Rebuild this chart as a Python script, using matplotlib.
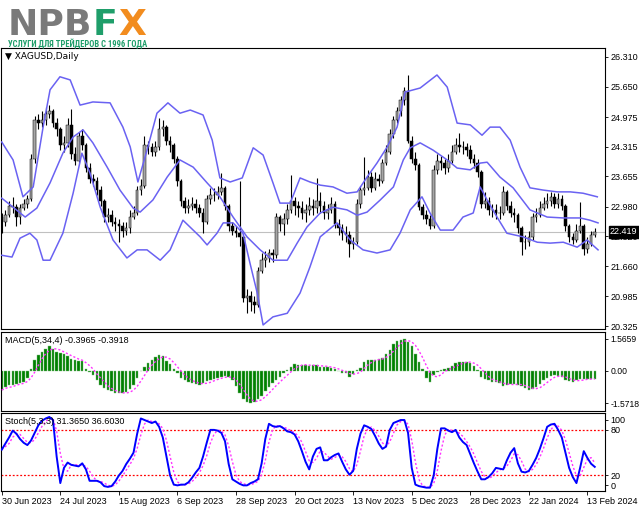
import matplotlib
matplotlib.use("Agg")
import matplotlib.pyplot as plt
import numpy as np
import pandas as pd
from matplotlib import font_manager
from matplotlib.transforms import blended_transform_factory

# ---------------- data ----------------
opens = [22.75,22.64,22.80,23.00,22.98,22.75,22.95,23.05,23.15,24.05,
         24.90,24.85,24.90,25.05,25.10,24.85,24.70,24.35,24.40,24.80,
         24.15,24.00,24.55,24.35,23.85,23.60,23.55,23.35,23.10,22.75,
         22.80,22.65,22.60,22.55,22.45,22.50,22.75,22.85,23.35,23.45,
         24.35,24.30,24.20,24.30,24.70,24.75,24.45,24.35,24.05,23.55,
         23.10,22.95,23.00,23.05,22.95,22.85,22.65,23.15,23.25,23.25,
         23.30,23.40,23.00,22.55,22.45,22.40,22.30,20.95,21.00,20.85,
         20.80,21.55,21.80,21.85,21.95,21.90,22.75,22.60,22.70,22.90,
         23.10,23.00,22.95,22.85,22.90,23.00,22.95,23.10,23.00,22.85,
         22.90,23.05,22.60,22.50,22.40,22.35,22.15,22.20,23.05,23.35,
         23.40,23.65,23.40,23.60,23.55,23.95,24.20,24.60,24.90,25.10,
         25.35,25.55,24.45,24.05,23.90,22.97,22.80,22.70,22.55,23.80,
         24.00,23.95,23.85,24.00,24.20,24.35,24.30,24.30,24.25,24.05,
         23.95,23.75,23.05,23.10,22.90,22.90,22.85,22.85,23.30,23.00,
         22.85,22.80,22.50,22.20,22.20,22.30,22.75,22.80,22.95,23.05,
         23.10,23.20,23.05,23.15,23.00,22.55,22.30,22.25,22.45,22.55,
         22.05,22.15,22.35]
closes = [22.64,22.80,23.00,22.98,22.75,22.95,23.05,23.15,24.05,24.90,
          24.85,24.90,25.05,25.10,24.85,24.70,24.35,24.40,24.80,24.15,
          24.00,24.55,24.35,23.85,23.60,23.55,23.35,23.10,22.75,22.80,
          22.65,22.60,22.55,22.45,22.50,22.75,22.85,23.35,23.45,24.35,
          24.30,24.20,24.30,24.70,24.75,24.45,24.35,24.05,23.55,23.10,
          22.95,23.00,23.05,22.95,22.85,22.65,23.15,23.25,23.25,23.30,
          23.40,23.00,22.55,22.45,22.40,22.30,20.95,21.00,20.85,20.80,
          21.55,21.80,21.85,21.95,21.90,22.75,22.60,22.70,22.90,23.10,
          23.00,22.95,22.85,22.90,23.00,22.95,23.10,23.00,22.85,22.90,
          23.05,22.60,22.50,22.40,22.35,22.15,22.20,23.05,23.35,23.40,
          23.65,23.40,23.60,23.55,23.95,24.20,24.60,24.90,25.10,25.35,
          25.55,24.45,24.05,23.90,22.97,22.80,22.70,22.55,23.80,24.00,
          23.95,23.85,24.00,24.20,24.35,24.30,24.30,24.25,24.05,23.95,
          23.75,23.05,23.10,22.90,22.90,22.85,22.85,23.30,23.00,22.85,
          22.80,22.50,22.20,22.20,22.30,22.75,22.80,22.95,23.05,23.10,
          23.20,23.05,23.15,23.00,22.55,22.30,22.25,22.45,22.55,22.05,
          22.15,22.35,22.419]
highs = [22.85,22.90,23.10,23.20,23.05,23.05,23.15,23.25,24.15,25.00,
         25.05,25.10,25.20,25.25,25.15,24.95,24.75,24.55,24.95,25.15,
         24.30,24.65,24.70,24.40,23.95,23.70,23.65,23.45,23.15,22.95,
         22.90,22.75,22.70,22.65,22.65,22.90,23.00,23.45,23.60,24.55,
         24.45,24.40,24.45,24.95,24.90,24.80,24.55,24.40,24.10,23.60,
         23.20,23.15,23.20,23.15,23.05,22.95,23.25,23.40,23.40,23.45,
         23.73,23.45,23.05,22.65,22.55,23.55,22.35,21.15,21.10,21.00,
         21.65,21.95,22.00,22.05,22.05,22.85,22.80,22.85,23.05,23.68,
         23.20,23.10,23.10,23.05,23.20,23.15,23.62,23.30,23.10,23.05,
         23.20,23.10,22.70,22.60,22.55,22.45,22.30,23.15,23.45,24.09,
         23.80,23.75,23.75,23.70,24.05,24.35,24.70,25.00,25.20,25.45,
         25.65,25.91,24.55,24.20,23.95,23.05,22.90,22.80,23.90,24.15,
         24.10,24.05,24.15,24.35,24.50,24.62,24.45,24.40,24.35,24.15,
         24.05,23.80,23.30,23.20,23.05,23.05,23.00,23.45,23.35,23.10,
         22.95,22.85,22.55,22.35,22.45,22.85,22.95,23.10,23.20,23.28,
         23.30,23.28,23.28,23.25,23.05,22.60,22.40,22.60,23.08,22.60,
         22.30,22.45,22.50]
lows = [22.40,22.55,22.75,22.85,22.55,22.60,22.90,22.95,23.10,23.95,
        24.70,24.75,24.80,24.95,24.75,24.55,24.25,24.20,24.30,24.05,
        23.90,23.95,24.25,23.75,23.50,23.45,23.25,23.00,22.65,22.65,
        22.55,22.45,22.20,22.30,22.35,22.40,22.70,22.80,23.25,23.40,
        24.15,24.10,24.10,24.25,24.55,24.35,24.20,23.95,23.45,23.00,
        22.85,22.85,22.90,22.85,22.75,22.40,22.60,23.05,23.10,23.15,
        23.25,22.90,22.45,22.35,22.30,22.10,20.85,20.61,20.65,20.62,
        20.75,21.50,21.65,21.75,21.75,21.85,22.45,22.35,22.60,22.85,
        22.80,22.75,22.70,22.65,22.80,22.80,22.85,22.85,22.70,22.70,
        22.85,22.50,22.35,22.25,22.20,21.86,22.05,22.15,22.95,23.25,
        23.35,23.30,23.35,23.45,23.50,23.90,24.15,24.50,24.85,25.00,
        25.25,24.40,23.95,23.80,22.90,22.70,22.60,22.48,22.50,23.70,
        23.80,23.70,23.75,23.95,24.15,24.20,24.15,24.10,23.95,23.85,
        23.65,22.95,22.95,22.80,22.75,22.70,22.70,22.80,22.90,22.75,
        22.65,22.40,21.90,22.05,22.10,22.25,22.65,22.75,22.90,22.95,
        23.00,22.95,22.95,22.90,22.45,22.20,22.15,22.20,22.40,21.90,
        21.95,22.10,22.30]

# Bollinger band points (bar index, price)
bb_up_x = [0,3.1,5.8,8.6,11.3,13.2,15.9,18.7,21.4,24.9,29.6,33.1,35.1,37.2,39.7,
           42.4,45.4,48.7,51.5,55,57.5,59.6,62.4,65.7,68.7,71.4,74.1,76,78.8,81.5,
           84.2,87,90.5,94.3,97.1,99.8,102.5,105.3,108,110.2,114.3,118.9,121.7,124.4,
           128,131.2,133.4,136.1,138.9,141.6,144.3,147.9,151.7,155.3,158.8,162.7]
bb_up = [24.42,24.02,23.20,23.42,24.75,25.58,25.87,25.80,25.24,25.31,25.29,24.75,24.31,
         23.53,24.24,25.06,25.29,25.06,25.13,25.02,24.46,23.62,23.53,23.62,24.29,24.13,
         23.51,23.06,23.06,23.62,23.53,23.46,23.42,23.28,23.31,23.64,23.95,24.31,24.75,
         25.53,25.62,25.91,25.64,24.84,24.80,24.57,24.75,24.75,24.46,23.86,23.40,23.35,
         23.31,23.31,23.28,23.20]
bb_mid_x = [0,3.1,6.4,9.6,13.2,16.7,19.5,22.2,24.9,28.8,32.3,35.9,37.8,41.3,45.2,48.7,
            52.3,56.1,59.6,63.2,67,70.6,74.1,78,80.7,83.4,87,90.5,94.3,97.1,99.8,103.4,
            107,109.7,111.6,114.3,117.8,121.7,124.4,128,130.7,132.6,136.1,139.7,144.3,
            149,153.4,158,160.7,162.9]
bb_mid = [23.17,22.97,22.75,22.95,23.51,24.17,24.53,24.69,24.40,23.86,23.35,22.95,22.86,
          23.13,23.64,24.02,23.86,23.51,23.20,22.75,22.31,22.02,21.79,21.79,22.17,22.53,
          22.84,22.97,22.91,22.79,22.86,23.13,23.42,24.02,24.29,24.40,24.24,24.02,23.84,
          23.80,23.95,23.97,23.64,23.40,22.91,22.75,22.73,22.73,22.68,22.62]
bb_low_x = [0,2.8,5,7.7,9.6,11.3,13.2,16.7,19.5,21.9,24.1,26.9,30.4,34.2,37,39.7,43.3,
            46,49.5,54.2,56.1,58.8,60.5,63.2,65.9,67.8,69.8,71.4,74.1,78,81.5,84.2,87,
            91.6,95.2,98.7,102.5,106.1,108.8,111.6,114.8,117,119.8,123.3,126,128.8,130.7,
            132.6,135.3,138,142.4,146.3,149.8,153.4,157.2,159.9,162.9]
bb_low = [21.90,21.86,22.28,22.39,22.24,21.79,21.79,22.39,23.28,24.17,23.73,22.97,22.24,
          21.84,22.02,22.02,21.79,22.02,22.68,22.31,22.13,22.39,22.62,22.62,22.39,21.73,
          21.06,20.35,20.53,20.61,21.06,21.64,22.31,22.62,22.24,22.02,21.95,22.02,22.39,
          22.91,23.20,22.84,22.46,22.46,22.75,22.84,23.42,23.13,22.75,22.39,22.31,22.19,
          22.17,22.19,22.08,22.24,22.02]

macd = [-0.93,-0.77,-0.69,-0.69,-0.62,-0.58,-0.52,-0.35,0.10,0.54,
        0.79,0.95,1.10,1.20,1.08,0.95,0.87,0.84,0.72,0.58,
        0.55,0.50,0.48,0.10,-0.03,-0.20,-0.45,-0.68,-0.82,-0.93,
        -1.00,-1.06,-1.10,-1.10,-1.05,-0.90,-0.70,-0.35,-0.02,0.22,
        0.38,0.55,0.70,0.78,0.72,0.50,0.35,0.08,-0.12,-0.33,
        -0.44,-0.52,-0.57,-0.62,-0.68,-0.60,-0.50,-0.44,-0.38,-0.33,
        -0.28,-0.25,-0.30,-0.45,-0.75,-1.10,-1.35,-1.50,-1.5718,-1.50,
        -1.35,-1.20,-1.00,-0.80,-0.60,-0.45,-0.30,-0.12,0.05,0.20,
        0.33,0.30,0.30,0.29,0.25,0.28,0.27,0.22,0.21,0.20,
        0.13,0.10,-0.02,-0.08,-0.12,-0.28,-0.15,0.05,0.15,0.45,
        0.52,0.54,0.56,0.60,0.66,0.85,1.05,1.30,1.45,1.52,
        1.5659,1.42,1.20,0.85,0.45,0.10,-0.35,-0.52,-0.22,-0.05,
        0.05,0.10,0.15,0.25,0.38,0.44,0.44,0.45,0.40,0.25,
        0.05,-0.28,-0.38,-0.45,-0.52,-0.55,-0.60,-0.72,-0.68,-0.62,
        -0.64,-0.68,-0.72,-0.82,-0.93,-0.90,-0.80,-0.65,-0.45,-0.35,
        -0.25,-0.20,-0.25,-0.30,-0.42,-0.50,-0.52,-0.45,-0.40,-0.39,
        -0.38,-0.4007,-0.3965]

stoch = [54,62,70,79,75,68,63,60,66,76,
         86,92,95,97,93,45,10,30,37,34,
         33,32,36,28,13,13,13,11,6,5,
         6,12,20,26,35,42,50,75,95,93,
         91,89,91,84,70,45,20,8,7,8,
         8,11,17,24,30,45,63,80,80,79,
         76,65,35,15,12,9,7,7,10,12,
         15,36,68,88,85,84,85,82,78,77,
         74,65,52,38,28,45,55,57,40,40,
         44,47,49,38,28,21,26,55,75,86,
         84,81,72,62,55,58,80,89,91,93,
         93,76,30,8,6,5,4,4,20,55,
         82,82,79,77,80,70,64,60,48,36,
         25,15,15,18,23,30,29,28,40,50,
         56,36,25,24,26,34,43,55,69,84,
         87,88,80,70,50,30,18,10,30,52,
         43,35.444,31.365]

price_ticks = [26.310, 25.650, 24.975, 24.315, 23.655, 22.980, 22.320, 21.660, 20.985, 20.325]
macd_ticks = [1.5659, 0.0, -1.5718]
macd_tick_labels = ["1.5659", "0.00", "-1.5718"]
stoch_levels = [80, 20]
stoch_tick_pos = [93, 80, 20, 7]
stoch_tick_labels = ["100", "80", "20", "0"]
date_pos = [0, 16, 32, 48, 64, 80, 96, 112, 128, 144, 160]
date_labels = ["30 Jun 2023", "24 Jul 2023", "15 Aug 2023", "6 Sep 2023", "28 Sep 2023",
               "20 Oct 2023", "13 Nov 2023", "5 Dec 2023", "28 Dec 2023", "22 Jan 2024",
               "13 Feb 2024"]

# ---------------- figure ----------------
W, H = 639, 508
fig = plt.figure(figsize=(W / 100, H / 100), dpi=100)
fig.patch.set_facecolor("white")
FONT = "Liberation Sans"
FS = 6.5

names = {f.name for f in font_manager.fontManager.ttflist}
NARROW = next((n for n in ["Liberation Sans Narrow", "Roboto Condensed",
                           "Open Sans Condensed"] if n in names), FONT)


def rect(x0, y0, x1, y1):
    return [x0 / W, 1 - y1 / H, (x1 - x0) / W, (y1 - y0) / H]


ax1 = fig.add_axes(rect(1, 48, 605, 329))
ax2 = fig.add_axes(rect(1, 332, 605, 411))
ax3 = fig.add_axes(rect(1, 413, 605, 491))

for ax in (ax1, ax2, ax3):
    ax.set_xlim(-0.2, 164.8)
    ax.set_facecolor("white")
    for s in ax.spines.values():
        s.set_linewidth(0.8)
        s.set_color("black")
    ax.yaxis.tick_right()
    ax.tick_params(axis="y", right=True, left=False, labelright=True, labelleft=False,
                   length=2.5, width=0.6, pad=1.2, labelsize=FS)

ax1.set_xticks([])
ax2.set_xticks([])

# ---- main: candles + Bollinger ----
o = np.array(opens)
c = np.array(closes)
h = np.array(highs)
lo = np.array(lows)
idx = np.arange(len(c))
up = c >= o

ax1.axhline(c[-1], color="#c0c0c0", lw=0.8, zorder=1)
ax1.vlines(idx, lo, h, color="black", lw=0.8, zorder=2)
ax1.bar(idx[up], (c - o)[up], bottom=o[up], width=0.7, color="#a6a6a6",
        edgecolor="black", lw=0.35, zorder=3)
ax1.bar(idx[~up], (o - c)[~up], bottom=c[~up], width=0.7, color="black",
        edgecolor="black", lw=0.35, zorder=3)

band_col = "#6a62f2"
ax1.plot(bb_up_x, bb_up, color=band_col, lw=1.1, zorder=4)
ax1.plot(bb_mid_x, bb_mid, color=band_col, lw=1.1, zorder=4)
ax1.plot(bb_low_x, bb_low, color=band_col, lw=1.1, zorder=4)

ax1.set_ylim(20.26, 26.51)
ax1.set_yticks(price_ticks)
ax1.set_yticklabels([f"{v:.3f}" for v in price_ticks], fontfamily=FONT, fontsize=FS)

tr = blended_transform_factory(ax1.transAxes, ax1.transData)
ax1.text(1.0 + 5 / 604, c[-1], f"{c[-1]:.3f}", transform=tr, ha="left", va="center",
         fontsize=FS, color="white", fontfamily=FONT, zorder=10,
         bbox=dict(boxstyle="square,pad=0.12", fc="black", ec="black"), clip_on=False)
ax1.text(0.006, 0.985, "\u25bc XAGUSD,Daily", transform=ax1.transAxes, ha="left", va="top",
         fontsize=FS, fontfamily=["DejaVu Sans"], color="black")

# ---- MACD ----
ax2.bar(idx, macd, width=0.66, color="#008000", edgecolor="#7fbf7f", lw=0.3, zorder=2)
macd_signal = pd.Series(macd).rolling(4, min_periods=1).mean()
ax2.plot(idx, macd_signal, color="#ff33ff", lw=1.0, ls=(0, (1.5, 1.5)), zorder=3)
ax2.set_ylim(-1.957, 1.908)
ax2.set_yticks(macd_ticks)
ax2.set_yticklabels(macd_tick_labels, fontfamily=FONT, fontsize=6.2)
ax2.text(0.006, 0.95, f"MACD(5,34,4) {macd[-1]:.4f} {macd_signal.iloc[-1]:.4f}",
         transform=ax2.transAxes, ha="left", va="top", fontsize=FS, fontfamily=FONT)

# ---- Stochastic ----
stoch_signal = pd.Series(stoch).rolling(3, min_periods=1).mean()
for lv in stoch_levels:
    ax3.axhline(lv, color="red", lw=0.9, ls=(0, (1.5, 1.5)), zorder=1)
ax3.plot(idx, stoch_signal, color="#ff33ff", lw=1.0, ls=(0, (1.5, 1.5)), zorder=2)
ax3.plot(idx, stoch, color="#0000ff", lw=1.4, zorder=3)
ax3.set_ylim(-0.4, 102.2)
ax3.set_yticks(stoch_tick_pos)
ax3.set_yticklabels(stoch_tick_labels, fontfamily=FONT, fontsize=FS)
ax3.text(0.006, 0.95, f"Stoch(5,3,3) {stoch[-1]:.4f} {stoch_signal.iloc[-1]:.4f}",
         transform=ax3.transAxes, ha="left", va="top", fontsize=FS, fontfamily=FONT)

ax3.set_xticks(date_pos)
ax3.set_xticklabels(date_labels, fontfamily=FONT, fontsize=FS)
ax3.tick_params(axis="x", direction="out", length=3, width=0.6, pad=1.5)
for t in ax3.get_xticklabels():
    t.set_ha("left")

# ---- logo ----
renderer = fig.canvas.get_renderer()
LOGO_FS = 26
base_y = 1 - 35 / H
t1 = fig.text(8 / W, base_y, "NPB", fontsize=LOGO_FS, fontweight="black",
              fontfamily="DejaVu Sans", color="#7a7a7a", va="baseline")
bb = t1.get_window_extent(renderer)
t2 = fig.text(bb.x1 / W + 0.5 / W, base_y, "F", fontsize=LOGO_FS, fontweight="black",
              fontfamily="DejaVu Sans", color="#1f9e6a", va="baseline")
bb2 = t2.get_window_extent(renderer)
fig.text(bb2.x1 / W + 0.5 / W, base_y, "X", fontsize=LOGO_FS, fontweight="black",
         fontfamily="DejaVu Sans", color="#f28c1e", va="baseline")

tag = fig.text(8 / W, 1 - 47 / H, "УСЛУГИ ДЛЯ ТРЕЙДЕРОВ С 1996 ГОДА", fontsize=6,
               fontweight="bold", fontfamily=NARROW, color="#1f9e6a", va="baseline")
tw = tag.get_window_extent(renderer).width
tag.set_fontsize(6 * 140 / tw)

fig.savefig("out.png", dpi=100, facecolor="white")
